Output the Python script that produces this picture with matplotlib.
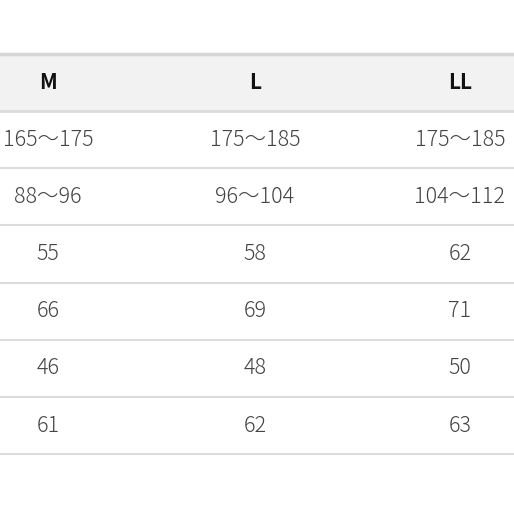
import matplotlib.pyplot as plt
from matplotlib.patches import Rectangle

sizes = ["M", "L", "LL"]
rows = [
    ["165〜175", "175〜185", "175〜185"],
    ["88〜96", "96〜104", "104〜112"],
    ["55", "58", "62"],
    ["66", "69", "71"],
    ["46", "48", "50"],
    ["61", "62", "63"],
]

col_x = [48, 255, 460]
header_top, header_bot = 54, 111
row_h = 57.2

fig = plt.figure(figsize=(5.14, 5.14), dpi=100)
ax = fig.add_axes([0, 0, 1, 1])
ax.set_xlim(0, 514)
ax.set_ylim(514, 0)
ax.axis("off")

fam = ["Noto Sans CJK JP", "DejaVu Sans"]

# header band
ax.add_patch(Rectangle((0, header_top), 514, header_bot - header_top,
                       facecolor="#f2f2f2", edgecolor="none"))
ax.plot([0, 514], [header_top, header_top], color="#d6d6d6", lw=2.5)
ax.plot([0, 514], [header_bot, header_bot], color="#dcdcdc", lw=2)
for x, s in zip(col_x, sizes):
    ax.text(x, (header_top + header_bot) / 2, s, ha="center", va="center",
            fontsize=15, fontweight="bold", family=fam, color="#111111")

for i, r in enumerate(rows):
    top = header_bot + i * row_h
    bot = top + row_h
    for x, s in zip(col_x, r):
        ax.text(x, (top + bot) / 2, s, ha="center", va="center",
                fontsize=15.5, fontweight="light", family=fam, color="#444444")
    ax.plot([0, 514], [bot, bot], color="#dcdcdc", lw=1.5)

fig.savefig("out.png", dpi=100, facecolor="white")
